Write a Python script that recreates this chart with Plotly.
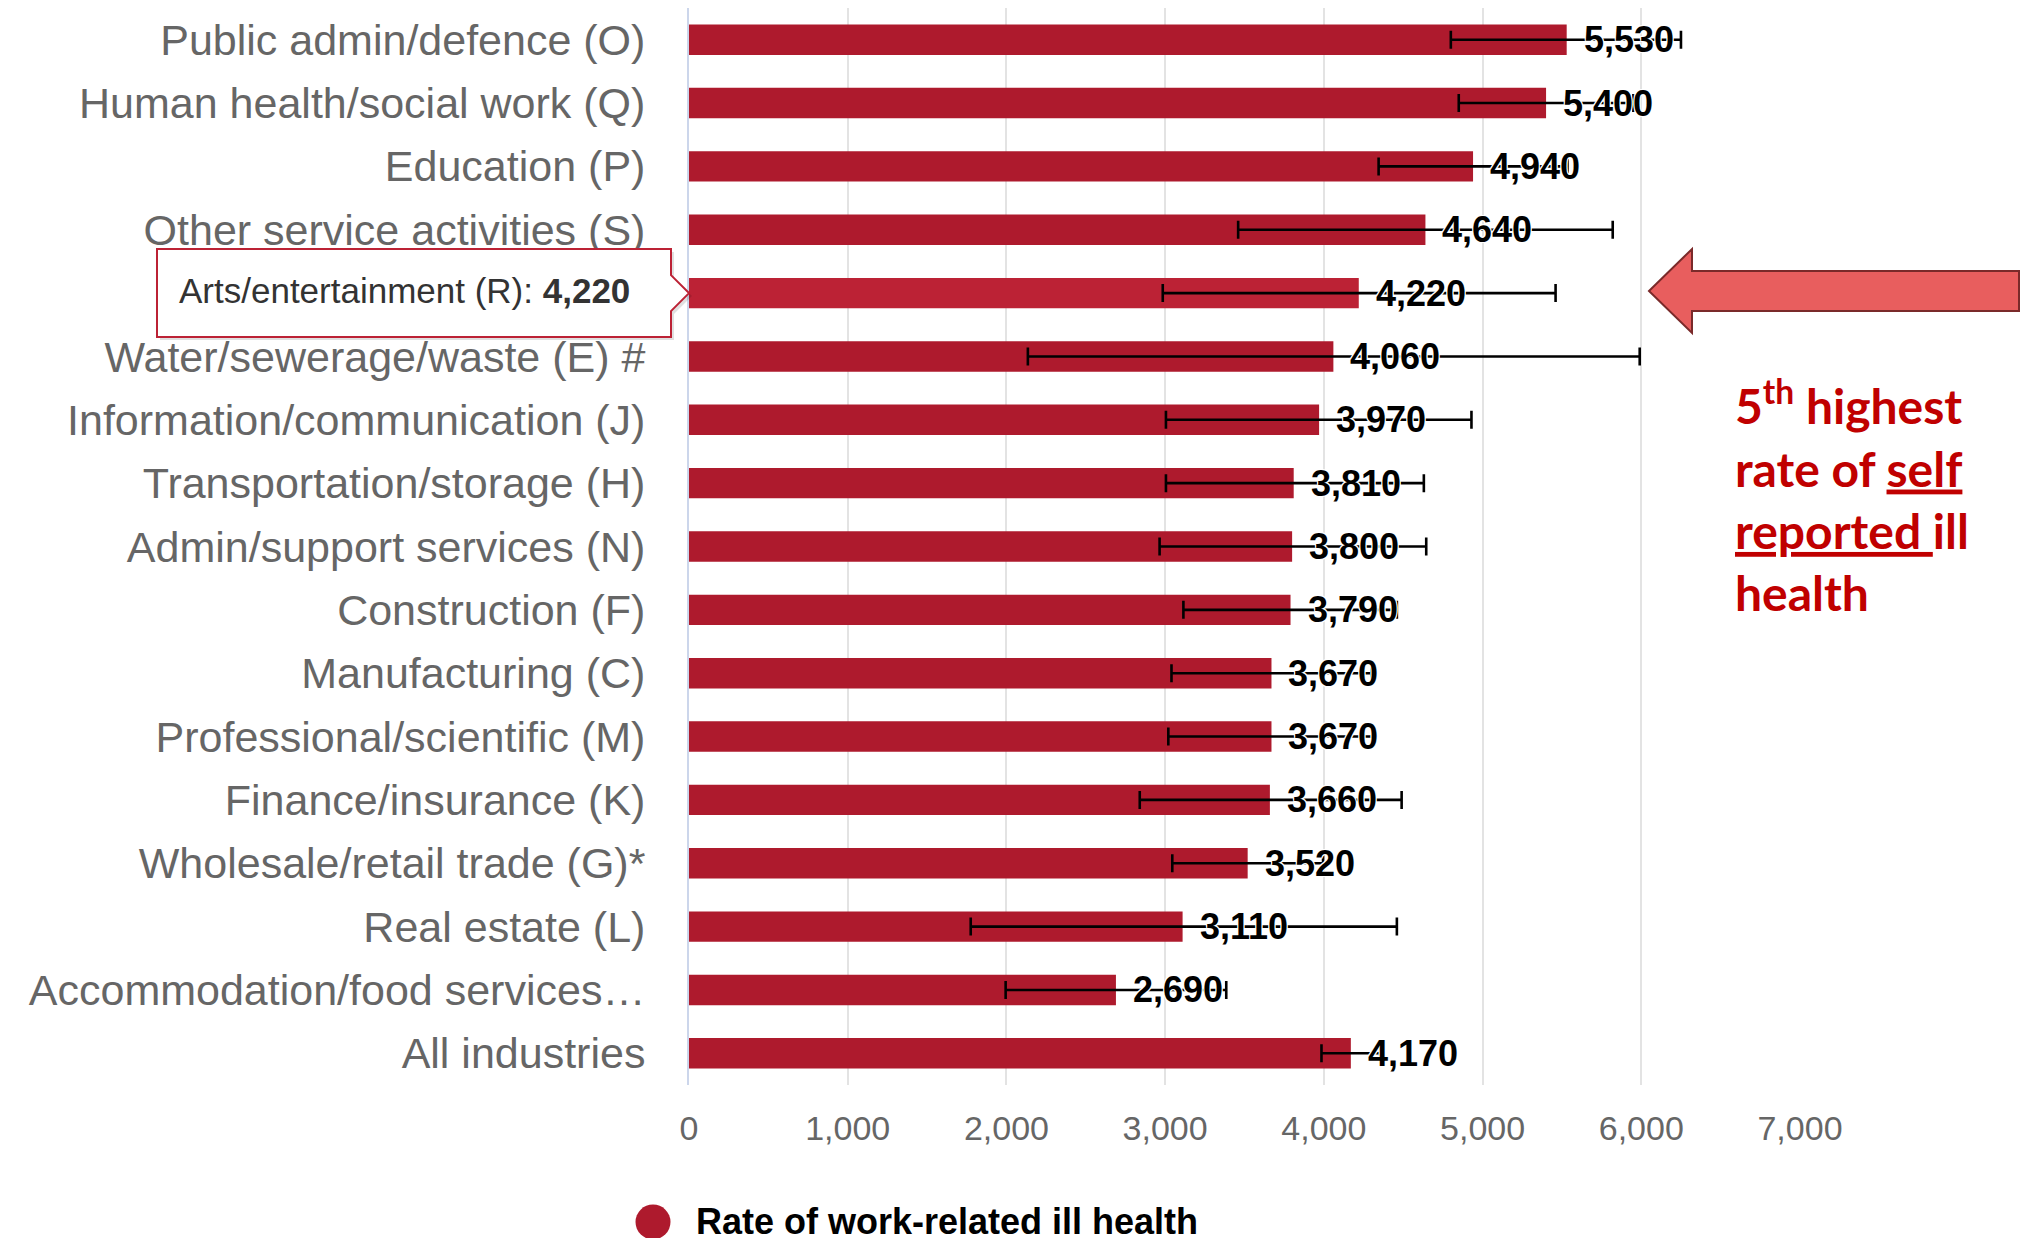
import plotly.graph_objects as go

# ---------------- data ----------------
categories = [
    "Public admin/defence (O)",
    "Human health/social work (Q)",
    "Education (P)",
    "Other service activities (S)",
    "Arts/entertainment (R)",
    "Water/sewerage/waste (E) #",
    "Information/communication (J)",
    "Transportation/storage (H)",
    "Admin/support services (N)",
    "Construction (F)",
    "Manufacturing (C)",
    "Professional/scientific (M)",
    "Finance/insurance (K)",
    "Wholesale/retail trade (G)*",
    "Real estate (L)",
    "Accommodation/food services\u2026",
    "All industries",
]
rates = [5530, 5400, 4940, 4640, 4220, 4060, 3970, 3810, 3800, 3790,
         3670, 3670, 3660, 3520, 3110, 2690, 4170]
ci_lower = [4800, 4850, 4345, 3460, 2985, 2135, 3005, 3005, 2965, 3115,
            3040, 3020, 2840, 3045, 1775, 1995, 3985]
ci_upper = [6250, 5950, 5535, 5820, 5460, 5990, 4930, 4630, 4645, 4460,
            4300, 4320, 4490, 3995, 4460, 3385, 4355]
x_tick_values = [0, 1000, 2000, 3000, 4000, 5000, 6000, 7000]
series_name = "Rate of work-related ill health"
highlight = "Arts/entertainment (R)"
callout_lines = ["5<sup>th</sup> highest", "rate of <u>self</u>",
                 "<u>reported </u>ill", "health"]

# ---------------- layout constants ----------------
W, H = 2034, 1238
ML, MR, MT, MB = 689, 234, 8, 153
PW, PH = W - ML - MR, H - MT - MB
BAR = "#AE1A2D"
BAR_HI = "#BC2235"


def px(x):
    # figure pixel -> paper (plot-area relative) x
    return (x - ML) / PW


def py(y):
    # figure pixel -> paper (plot-area relative) y
    return 1 - (y - MT) / PH


n = len(categories)
row_h = PH / n
hi_idx = categories.index(highlight)
bar_colors = [BAR_HI if c == highlight else BAR for c in categories]
# the hovered category's axis label sits hidden under the tooltip
tick_text = ["" if c == highlight else c for c in categories]

fig = go.Figure()
fig.add_trace(go.Bar(
    y=categories, x=rates, orientation="h", name=series_name,
    marker=dict(color=bar_colors, line=dict(width=0)),
    error_x=dict(type="data", symmetric=False,
                 array=[u - r for u, r in zip(ci_upper, rates)],
                 arrayminus=[r - l for r, l in zip(rates, ci_lower)],
                 color="#000000", thickness=2.6, width=9),
    showlegend=False, hoverinfo="skip",
))

annotations = []
# data labels
for c, v in zip(categories, rates):
    annotations.append(dict(
        x=v, y=c, xref="x", yref="y", text=f"{v:,}", showarrow=False,
        xanchor="left", yanchor="middle", xshift=15,
        font=dict(family="Liberation Sans, Arial", size=36, color="#000000",
                  weight="bold",
                  shadow="-1px -1px 0 #fff, 1px -1px 0 #fff, -1px 1px 0 #fff, 1px 1px 0 #fff"),
    ))

# tooltip box
yc = MT + (hi_idx + 0.5) * row_h
tip_x = ML
bx1 = tip_x - 18
bx0 = 157
by0, by1 = yc - 44, yc + 44
pts = [(bx0, by0), (bx1, by0), (bx1, yc - 18), (tip_x, yc), (bx1, yc + 18),
       (bx1, by1), (bx0, by1)]


def path_of(points, dx=0, dy=0):
    s = "M " + " L ".join(f"{px(x + dx):.5f},{py(y + dy):.5f}" for x, y in points)
    return s + " Z"


shapes = [
    dict(type="path", xref="paper", yref="paper", path=path_of(pts, 3, 3),
         fillcolor="rgba(0,0,0,0.12)", line=dict(width=0), layer="above"),
    dict(type="path", xref="paper", yref="paper", path=path_of(pts),
         fillcolor="#FFFFFF", line=dict(color=BAR_HI, width=2), layer="above"),
]
annotations.append(dict(
    x=px(bx0 + 20), y=py(yc - 3), xref="paper", yref="paper",
    text=f"{highlight}: <b>{rates[hi_idx]:,}</b>", showarrow=False,
    xanchor="left", yanchor="middle",
    font=dict(family="Liberation Sans, Arial", size=35, color="#333333"),
))

# big arrow pointing at the highlighted row
arrow = [(1649, 291), (1692, 249), (1692, 271), (2019, 271), (2019, 311),
         (1692, 311), (1692, 333)]
shapes.append(dict(type="path", xref="paper", yref="paper", path=path_of(arrow),
                   fillcolor="#E85E5E", line=dict(color="#7A2A2A", width=2),
                   layer="above"))

# callout text
annotations.append(dict(
    x=px(1733), y=py(369), xref="paper", yref="paper",
    text="<br>".join(callout_lines), showarrow=False,
    xanchor="left", yanchor="top", align="left",
    font=dict(family="Lato, Carlito, sans-serif", size=48, color="#C00000",
              weight="bold"),
))

# legend (circle marker + label, Highcharts style)
lcx, lcy, lr = 653, 1222, 17.5
shapes.append(dict(type="circle", xref="paper", yref="paper",
                   x0=px(lcx - lr), x1=px(lcx + lr), y0=py(lcy + lr), y1=py(lcy - lr),
                   fillcolor=BAR, line=dict(width=0)))
annotations.append(dict(
    x=px(694), y=py(lcy - 1), xref="paper", yref="paper", text=series_name,
    showarrow=False, xanchor="left", yanchor="middle",
    font=dict(family="Liberation Sans, Arial", size=36, color="#000000",
              weight="bold"),
))

fig.update_layout(
    width=W, height=H,
    margin=dict(l=ML, r=MR, t=MT, b=MB, pad=0),
    paper_bgcolor="#FFFFFF", plot_bgcolor="#FFFFFF",
    bargap=0.52,
    shapes=shapes, annotations=annotations,
    hovermode=False,
    xaxis=dict(range=[0, 7000], tickvals=x_tick_values, tickformat=",",
               showgrid=True, gridcolor="#E3E3E3", gridwidth=2,
               zeroline=False, showline=False, ticks="",
               ticklabelstandoff=20,
               tickfont=dict(family="Liberation Sans, Arial", size=34, color="#666666")),
    yaxis=dict(type="category", categoryorder="array", categoryarray=categories,
               tickmode="array", tickvals=categories, ticktext=tick_text,
               range=[n - 0.5, -0.5], showgrid=False, zeroline=False,
               showline=True, linecolor="#CCD6EB", linewidth=2, ticks="",
               ticklabelstandoff=33,
               tickfont=dict(family="Liberation Sans, Arial", size=43, color="#666666")),
)

fig.write_html(
    "out.html",
    config={"displayModeBar": False},
    post_script="document.body.style.margin='0';document.body.style.overflow='hidden';",
)
